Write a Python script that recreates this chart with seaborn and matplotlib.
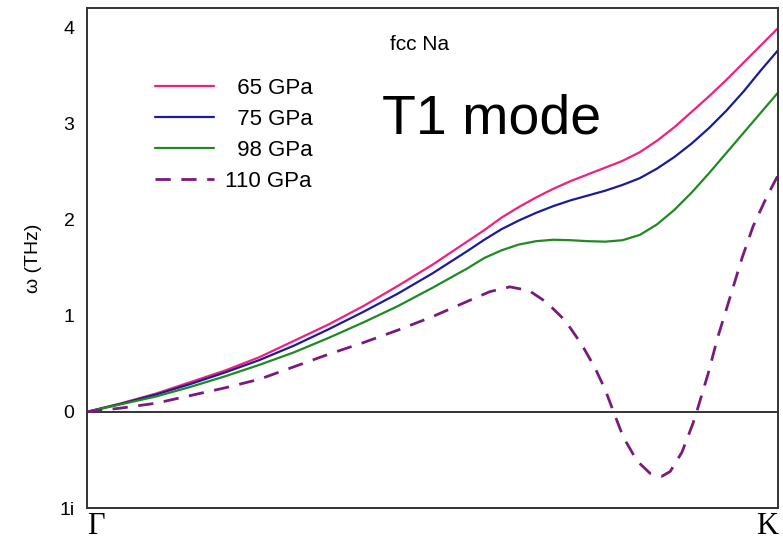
"""fcc Na T1 mode phonon dispersion along Gamma-K."""

import matplotlib

matplotlib.use("Agg")
import matplotlib.pyplot as plt
import pandas as pd
import seaborn as sns

# path coordinate along Gamma -> K (0 = Gamma, 1 = K)
q_solid = [0.0, 0.05, 0.10, 0.15, 0.20, 0.25, 0.30, 0.35, 0.40, 0.45, 0.50,
           0.55, 0.575, 0.60, 0.625, 0.65, 0.675, 0.70, 0.725, 0.75, 0.775,
           0.80, 0.825, 0.85, 0.875, 0.90, 0.925, 0.95, 0.975, 1.00]
omega_65 = [0.0, 0.09, 0.19, 0.31, 0.43, 0.57, 0.74, 0.91, 1.10, 1.31, 1.53,
            1.77, 1.89, 2.02, 2.13, 2.23, 2.32, 2.40, 2.47, 2.54, 2.61,
            2.70, 2.82, 2.96, 3.12, 3.28, 3.45, 3.63, 3.81, 3.99]
omega_75 = [0.0, 0.085, 0.18, 0.29, 0.41, 0.54, 0.69, 0.86, 1.04, 1.23, 1.44,
            1.67, 1.79, 1.90, 1.99, 2.07, 2.14, 2.20, 2.25, 2.30, 2.36,
            2.43, 2.53, 2.65, 2.79, 2.95, 3.13, 3.33, 3.55, 3.76]
omega_98 = [0.0, 0.08, 0.16, 0.26, 0.37, 0.49, 0.62, 0.77, 0.93, 1.10, 1.29,
            1.49, 1.60, 1.68, 1.74, 1.775, 1.79, 1.785, 1.775, 1.77, 1.785,
            1.84, 1.95, 2.10, 2.28, 2.48, 2.69, 2.90, 3.11, 3.32]

q_110 = [0.0, 0.05, 0.10, 0.15, 0.20, 0.25, 0.30, 0.35, 0.40, 0.45, 0.50,
         0.554, 0.583, 0.612, 0.640, 0.665, 0.692, 0.716, 0.735, 0.750, 0.761,
         0.776, 0.796, 0.815, 0.832, 0.844, 0.861, 0.877, 0.884, 0.899, 0.913,
         0.931, 0.948, 0.964, 0.984, 1.00]
omega_110 = [0.0, 0.04, 0.09, 0.17, 0.25, 0.34, 0.47, 0.60, 0.72, 0.85, 0.99,
             1.16, 1.25, 1.30, 1.26, 1.14, 0.95, 0.70, 0.46, 0.23, 0.02,
             -0.26, -0.51, -0.64, -0.67, -0.62, -0.42, -0.12, 0.04, 0.40, 0.78,
             1.20, 1.60, 1.93, 2.24, 2.46]

labels = ["  65 GPa", "  75 GPa", "  98 GPa", "110 GPa"]
colors = ["#F0207F", "#1C1C96", "#1F8A23", "#7A1A7E"]

y_ticks = [-1, 0, 1, 2, 3, 4]
y_ticklabels = ["1i", "0", "1", "2", "3", "4"]
x_ticks = [0.0, 1.0]
x_ticklabels = ["Γ", "K"]

sns.set_style("white")
plt.rcParams["font.family"] = ["Liberation Sans", "DejaVu Sans"]
plt.rcParams["text.color"] = "black"
plt.rcParams["axes.labelcolor"] = "black"

fig, ax = plt.subplots(figsize=(7.83, 5.51), dpi=100)
fig.subplots_adjust(left=0.111, right=0.9936, top=0.9855, bottom=0.078)

solid = pd.DataFrame({"q": q_solid, "65": omega_65, "75": omega_75, "98": omega_98})
for col, lab, c in zip(["65", "75", "98"], labels[:3], colors[:3]):
    sns.lineplot(data=solid, x="q", y=col, ax=ax, color=c, lw=1.6, label=lab)

dashed = pd.DataFrame({"q": q_110, "omega": omega_110})
sns.lineplot(data=dashed, x="q", y="omega", ax=ax, color=colors[3], lw=2.0,
             linestyle=(0, (5.5, 3.8)), label=labels[3])

ax.axhline(0, color="#333333", lw=1.4, zorder=1)

ax.set_xlim(0, 1)
ax.set_ylim(-1, 4.2)
ax.set_yticks(y_ticks)
ax.set_yticklabels(y_ticklabels, fontsize=14)
ax.set_xticks(x_ticks)
ax.set_xticklabels(x_ticklabels, fontsize=22, family="Liberation Serif")
ax.tick_params(axis="y", direction="in", length=7, width=1.2, pad=9,
               color="#222222", labelcolor="black")
ax.tick_params(axis="x", length=0, pad=3, labelcolor="black")
for lbl, ha in zip(ax.get_xticklabels(), ["left", "right"]):
    lbl.set_ha(ha)

ax.set_xlabel("")
ax.set_ylabel("ω (THz)", fontsize=14, labelpad=12)
for s in ax.spines.values():
    s.set_color("#333333")
    s.set_linewidth(1.4)

ax.text(0.482, 0.916, "fcc Na", transform=ax.transAxes, fontsize=15,
        ha="center", va="baseline")
ax.text(0.585, 0.748, "T1 mode", transform=ax.transAxes, fontsize=40,
        ha="center", va="baseline")

leg = ax.legend(loc="upper left", bbox_to_anchor=(0.07, 0.9), frameon=False,
                fontsize=16, handlelength=2.65, handletextpad=0.5,
                labelspacing=0.45)

fig.savefig("out.png", dpi=100)
